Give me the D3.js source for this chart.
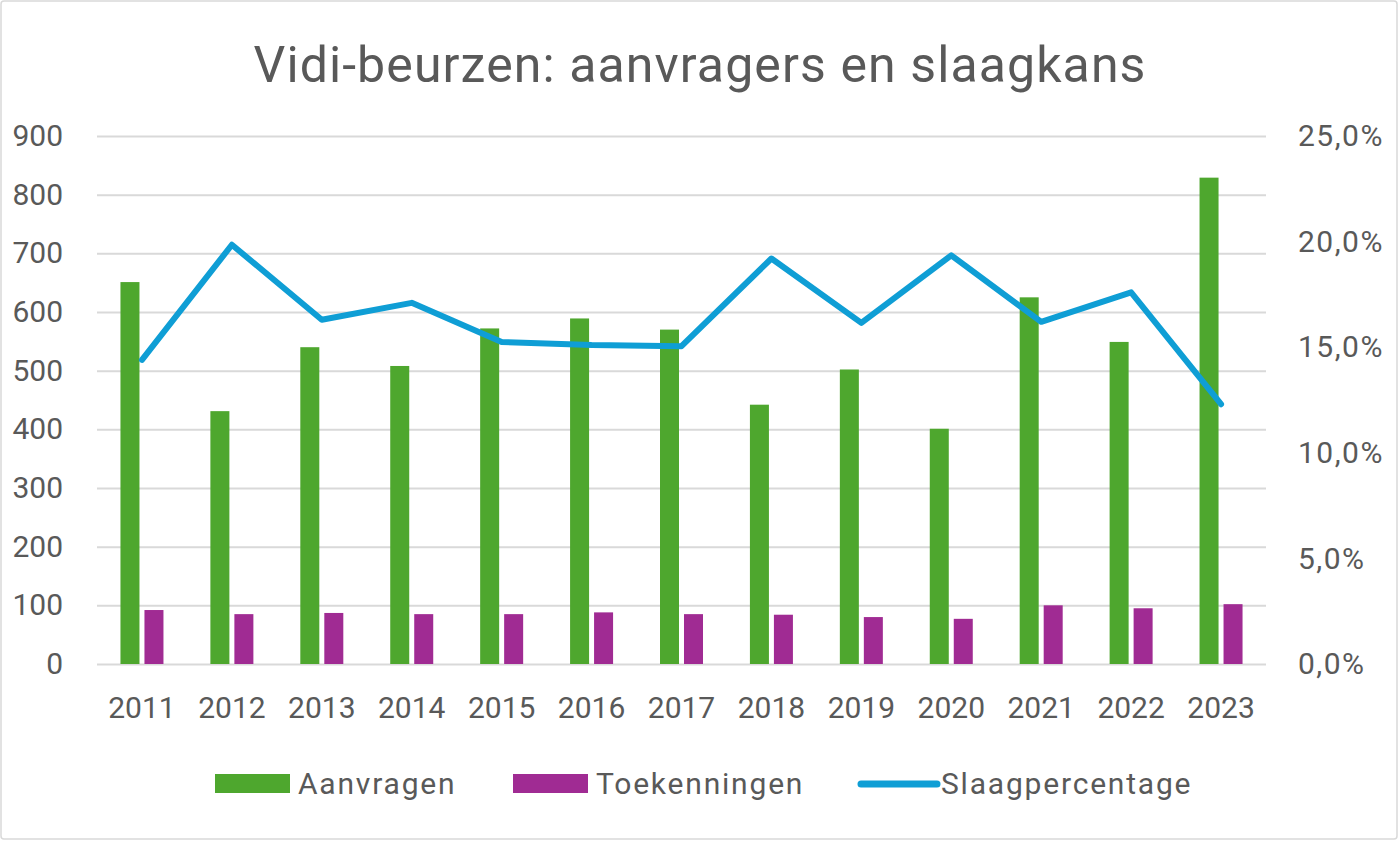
<!DOCTYPE html>
<html>
<head>
<meta charset="utf-8">
<script src="https://cdn.jsdelivr.net/npm/d3@7"></script>
<style>
  html, body { margin: 0; padding: 0; background: #fff; }
  svg { display: block; font-family: Roboto, "Noto Sans", sans-serif; }
</style>
</head>
<body>
<svg id="chart" width="1400" height="841"></svg>
<script>
const years = ["2011","2012","2013","2014","2015","2016","2017","2018","2019","2020","2021","2022","2023"];
const aanvragen = [651, 431, 540, 508, 572, 589, 570, 442, 502, 401, 625, 549, 829];
const toekenningen = [92, 85, 87, 85, 85, 88, 85, 84, 80, 77, 100, 95, 102];
const slaagpercentage = [14.4, 19.85, 16.3, 17.1, 15.25, 15.1, 15.05, 19.2, 16.15, 19.35, 16.2, 17.6, 12.3];
const leftTicks = [0, 100, 200, 300, 400, 500, 600, 700, 800, 900];
const rightTicks = [0, 5, 10, 15, 20, 25];
const seriesNames = ["Aanvragen", "Toekenningen", "Slaagpercentage"];
const colors = { Aanvragen: "#4EA72E", Toekenningen: "#A02B93", Slaagpercentage: "#0F9ED5" };
const title = "Vidi-beurzen: aanvragers en slaagkans";

const svg = d3.select("#chart");
const W = 1400, H = 841;
const plot = { left: 97, right: 1266, top: 136, bottom: 664 };
const textColor = "#595959";
const gridColor = "#D9D9D9";

// border
svg.append("rect").attr("x", 1).attr("y", 1).attr("width", W - 4).attr("height", H - 3)
  .attr("rx", 3).attr("fill", "#fff").attr("stroke", gridColor).attr("stroke-width", 1.5);

// title
svg.append("text").attr("x", 700).attr("y", 82).attr("text-anchor", "middle")
  .attr("font-size", 50).attr("letter-spacing", "1.1px").attr("fill", textColor).text(title);

const x = d3.scaleBand().domain(years).range([plot.left, plot.right]).padding(0);
const barSeries = ["Aanvragen", "Toekenningen"];
const x1 = d3.scaleBand().domain(barSeries).range([-21.5, 21.5]).paddingInner(0.208);
const yL = d3.scaleLinear().domain([0, 900]).range([plot.bottom, plot.top]);
const yR = d3.scaleLinear().domain([0, 25]).range([plot.bottom, plot.top]);

// gridlines via axis
const gridAxis = d3.axisLeft(yL).tickValues(leftTicks).tickSize(-(plot.right - plot.left)).tickFormat("");
const g = svg.append("g").attr("transform", `translate(${plot.left},0)`).call(gridAxis);
g.select(".domain").remove();
g.selectAll("line").attr("stroke", gridColor).attr("stroke-width", 2);

// left axis labels
const la = svg.append("g").attr("transform", `translate(63,0)`)
  .call(d3.axisLeft(yL).tickValues(leftTicks).tickSize(0).tickPadding(0).tickFormat(d3.format("d")));
la.select(".domain").remove();
la.selectAll("text").attr("font-size", 30).attr("fill", textColor).attr("font-family", "Roboto, sans-serif");

// right axis labels
const fmtPct = d => d.toFixed(1).replace(".", ",") + "%";
const ra = svg.append("g").attr("transform", `translate(1298,0)`)
  .call(d3.axisRight(yR).tickValues(rightTicks).tickSize(0).tickPadding(0).tickFormat(fmtPct));
ra.select(".domain").remove();
ra.selectAll("text").attr("font-size", 30).attr("letter-spacing", "1.5px").attr("fill", textColor).attr("font-family", "Roboto, sans-serif");

// x axis labels
const xa = svg.append("g").attr("transform", `translate(0,${plot.bottom})`)
  .call(d3.axisBottom(x).tickSize(0).tickPadding(33));
xa.select(".domain").remove();
xa.selectAll("text").attr("font-size", 30).attr("fill", textColor).attr("font-family", "Roboto, sans-serif");

// bars
const data = years.map((yr, i) => ({ year: yr, Aanvragen: aanvragen[i], Toekenningen: toekenningen[i] }));
const groups = svg.append("g").selectAll("g").data(data).join("g")
  .attr("transform", d => `translate(${x(d.year) + x.bandwidth() / 2},0)`);
groups.selectAll("rect").data(d => barSeries.map(s => ({ s, v: d[s] }))).join("rect")
  .attr("x", d => x1(d.s)).attr("width", x1.bandwidth())
  .attr("y", d => yL(d.v)).attr("height", d => yL(0) - yL(d.v))
  .attr("fill", d => colors[d.s]);

// line
const line = d3.line().x((d, i) => x(years[i]) + x.bandwidth() / 2).y(d => yR(d));
svg.append("path").datum(slaagpercentage).attr("d", line).attr("fill", "none")
  .attr("stroke", colors.Slaagpercentage).attr("stroke-width", 6)
  .attr("stroke-linejoin", "round").attr("stroke-linecap", "round");

// legend
const legendItems = [
  { name: "Aanvragen", x: 215, type: "rect" },
  { name: "Toekenningen", x: 513, type: "rect" },
  { name: "Slaagpercentage", x: 858, type: "line" }
];
const lg = svg.append("g");
legendItems.forEach(it => {
  if (it.type === "rect") {
    lg.append("rect").attr("x", it.x).attr("y", 774).attr("width", 75).attr("height", 19).attr("fill", colors[it.name]);
  } else {
    lg.append("line").attr("x1", it.x + 3).attr("x2", it.x + 79).attr("y1", 784).attr("y2", 784)
      .attr("stroke", colors[it.name]).attr("stroke-width", 7).attr("stroke-linecap", "round");
  }
  lg.append("text").attr("x", it.x + 83).attr("y", 794).attr("font-size", 30)
    .attr("letter-spacing", "1.8px").attr("fill", textColor).text(it.name);
});
</script>
</body>
</html>
